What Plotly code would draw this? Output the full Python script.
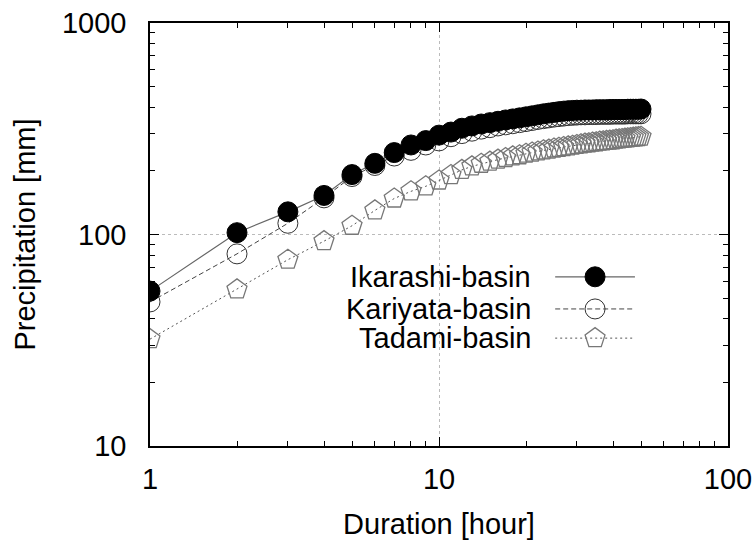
import plotly.graph_objects as go

duration = list(range(1, 51))

ikarashi = [54, 102, 128, 153, 192, 217, 244, 265, 278, 295,
            305, 318, 326, 333, 338, 343, 348, 352, 356, 360,
            364, 368, 372, 375, 378, 381, 383, 385, 386, 387,
            387, 388, 388, 388, 389, 389, 389, 389, 390, 390,
            390, 390, 390, 390, 391, 391, 391, 391, 391, 392]

kariyata = [48, 81, 113, 149, 188, 212, 235, 250, 265, 277,
            290, 300, 308, 315, 320, 326, 330, 334, 338, 342,
            346, 350, 353, 356, 359, 361, 363, 365, 366, 367,
            368, 368, 369, 369, 369, 370, 370, 370, 370, 371,
            371, 371, 371, 371, 372, 372, 372, 372, 372, 372]

tadami = [32, 55, 76, 93, 110, 130, 148, 160, 169, 180,
          191, 202, 210, 216, 221, 226, 230, 234, 237, 241,
          244, 247, 250, 252, 255, 257, 259, 261, 263, 265,
          267, 269, 270, 272, 273, 275, 276, 277, 278, 279,
          281, 282, 283, 284, 285, 286, 287, 288, 289, 290]

series_names = ["Ikarashi-basin", "Kariyata-basin", "Tadami-basin"]
x_ticks = [1, 10, 100]
y_ticks = [10, 100, 1000]
x_minor = [2, 3, 4, 5, 6, 7, 8, 9, 20, 30, 40, 50, 60, 70, 80, 90]
y_minor = [20, 30, 40, 50, 60, 70, 80, 90, 200, 300, 400, 500, 600, 700, 800, 900]

FONT = "Liberation Sans"
FS = 29
styles = [
    dict(line=dict(color="#666666", width=1.2, dash="solid"),
         marker=dict(symbol="circle", size=20, color="black", line=dict(color="black", width=1))),
    dict(line=dict(color="#444444", width=1, dash="5px,3px"),
         marker=dict(symbol="circle-open", size=20, color="#333333", line=dict(color="#333333", width=1))),
    dict(line=dict(color="#555555", width=1, dash="2px,3px"),
         marker=dict(symbol="pentagon-open", size=21, color="#777777", line=dict(color="#777777", width=1.3))),
]
data = [ikarashi, kariyata, tadami]

fig = go.Figure()
for idx in [2, 1, 0]:
    fig.add_trace(go.Scatter(x=duration, y=data[idx], mode="lines+markers",
                             name=series_names[idx], showlegend=False,
                             line=styles[idx]["line"], marker=styles[idx]["marker"]))

# custom gnuplot-style key (text left, sample right)
key_rows = [0.400, 0.324, 0.255]
for i, name in enumerate(series_names):
    fig.add_trace(go.Scatter(x=[0.701, 0.839], y=[key_rows[i]] * 2, mode="lines",
                             xaxis="x2", yaxis="y2", showlegend=False,
                             line=styles[i]["line"], hoverinfo="skip"))
    fig.add_trace(go.Scatter(x=[0.770], y=[key_rows[i]], mode="markers",
                             xaxis="x2", yaxis="y2", showlegend=False,
                             marker=styles[i]["marker"], hoverinfo="skip"))
    fig.add_annotation(x=0.663, y=key_rows[i], xref="paper", yref="paper",
                       text=name, showarrow=False, xanchor="right", yanchor="middle",
                       font=dict(family=FONT, size=FS, color="black"))

axis_common = dict(
    type="log", showline=True, linecolor="black", linewidth=1.5, mirror="allticks",
    ticks="inside", ticklen=9, tickwidth=1, tickcolor="black",
    showgrid=True, gridcolor="#bbbbbb", griddash="dot", gridwidth=1,
    zeroline=False, automargin=False,
    tickfont=dict(family=FONT, size=FS, color="black"),
)

fig.update_layout(
    width=756, height=542,
    margin=dict(l=150, r=28, t=23, b=96),
    plot_bgcolor="white", paper_bgcolor="white",
    showlegend=False,
    xaxis=dict(axis_common, range=[0, 2], tickvals=x_ticks, ticktext=[str(v) for v in x_ticks],
               minor=dict(ticks="inside", ticklen=5, tickcolor="black", tickvals=x_minor, showgrid=False),
               title=dict(text="Duration [hour]", font=dict(family=FONT, size=FS, color="black"), standoff=20),
               ticklabelstandoff=6),
    yaxis=dict(axis_common, range=[1, 3], tickvals=y_ticks, ticktext=[str(v) for v in y_ticks],
               minor=dict(ticks="inside", ticklen=5, tickcolor="black", tickvals=y_minor, showgrid=False),
               title=dict(text="Precipitation [mm]", font=dict(family=FONT, size=FS, color="black"), standoff=18),
               ticklabelstandoff=16),
    xaxis2=dict(overlaying="x", range=[0, 1], visible=False),
    yaxis2=dict(overlaying="y", range=[0, 1], visible=False),
)

fig.write_html("out.html")
